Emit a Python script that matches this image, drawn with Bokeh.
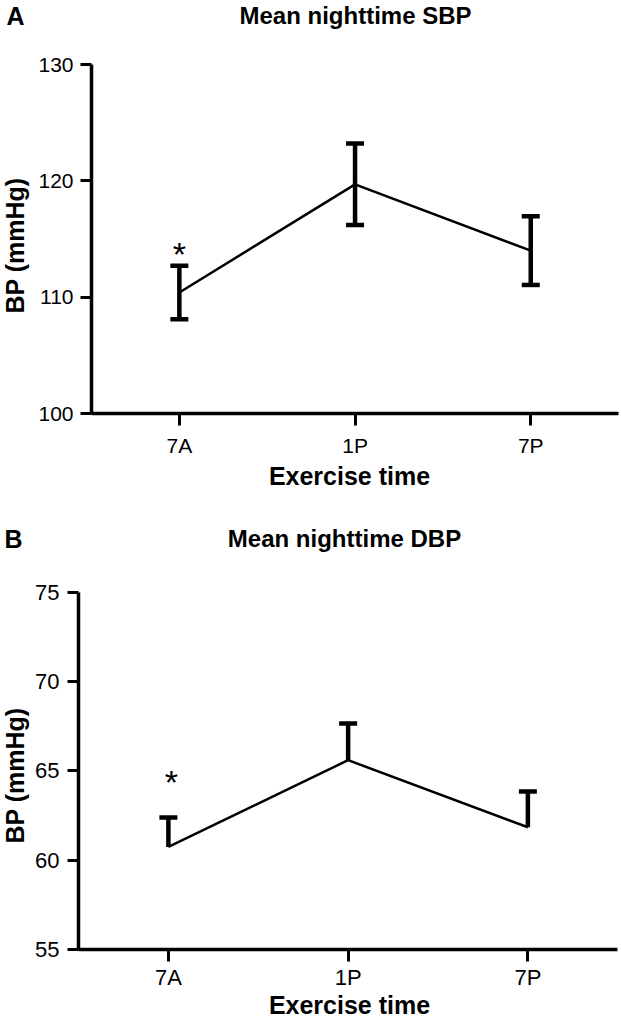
import math
from bokeh.plotting import figure
from bokeh.models import (Range1d, FixedTicker, Whisker, TeeHead, Label,
                          ColumnDataSource)
from bokeh.layouts import column
from bokeh.embed import file_html
from bokeh.resources import INLINE
from bokeh.core.properties import value

# ---------------- data ----------------
times = ["7A", "1P", "7P"]

sbp_mean = [110.4, 119.7, 114.0]
sbp_err = [2.3, 3.5, 2.95]
sbp_ticks = [100, 110, 120, 130]
sbp_star_y = [113.75]          # asterisk above 7A

dbp_mean = [60.75, 65.6, 61.85]
dbp_err = [1.65, 2.05, 2.0]
dbp_ticks = [55, 60, 65, 70, 75]
dbp_star_y = [64.4]            # asterisk above 7A

FONT = "Liberation Sans"
W = 621


def panel(letter, title, mean, err, ticks, star_y, two_sided, g):
    """g: layout geometry in pixels of this figure's canvas."""
    H = g["height"]
    ymin, ymax = ticks[0], ticks[-1]
    pxx = g["cat_step"]                       # pixels per category
    x0 = 0.5 - g["axis_left"] / pxx
    x1 = 0.5 + (W - g["axis_left"]) / pxx
    pxy = (g["axis_bottom"] - g["axis_top"]) / (ymax - ymin)
    y1 = ymax + g["axis_top"] / pxy
    y0 = ymin - (H - g["axis_bottom"]) / pxy

    def to_data(px, py):
        return x0 + px / pxx, y1 - py / pxy

    p = figure(x_range=Range1d(x0, x1), y_range=Range1d(y0, y1),
               width=W, height=H, output_backend="svg",
               toolbar_location=None, tools="", min_border=0)
    p.outline_line_color = None
    p.grid.visible = False
    p.background_fill_color = "white"
    p.border_fill_color = "white"

    xs = [i + 1 for i in range(len(times))]

    for ax in (p.xaxis[0], p.yaxis[0]):
        ax.axis_line_width = 3.5
        ax.axis_line_color = "black"
        ax.major_tick_line_width = 3
        ax.major_tick_line_color = "black"
        ax.major_tick_in = 0
        ax.minor_tick_line_color = None
        ax.major_label_text_font = FONT
        ax.major_label_text_font_size = g["tick_size"]
        ax.major_label_text_color = "black"
    p.yaxis.ticker = FixedTicker(ticks=ticks)
    p.yaxis.bounds = (ymin, ymax)
    p.yaxis.fixed_location = 0.5
    p.yaxis.major_tick_out = 11
    p.yaxis.major_label_standoff = g["ystand"]
    p.xaxis.ticker = FixedTicker(ticks=xs)
    p.xaxis.major_label_overrides = {x: t for x, t in zip(xs, times)}
    p.xaxis.bounds = (0.5, len(times) + 0.5)
    p.xaxis.fixed_location = ymin
    p.xaxis.major_tick_out = 12
    p.xaxis.major_label_standoff = g["xstand"]

    upper = [m + e for m, e in zip(mean, err)]
    lower = [m - e for m, e in zip(mean, err)] if two_sided else list(mean)
    src = ColumnDataSource(dict(x=xs, mean=mean, upper=upper, lower=lower))

    p.line(x="x", y="mean", source=src, line_width=2.5, line_color="black")
    head = dict(size=18, line_width=4.5, line_color="black")
    p.add_layout(Whisker(base="x", upper="upper", lower="lower", source=src,
                         dimension="height", line_width=4.5,
                         line_color="black",
                         upper_head=TeeHead(**head),
                         lower_head=TeeHead(**head) if two_sided else None))

    p.text(x=[xs[0]], y=star_y, text=["*"], text_font=value(FONT),
           text_font_size="34px", text_align="center",
           text_baseline="middle", text_color="black",
           x_offset=g["star_dx"])

    def lbl(text, pos, size, angle=0.0):
        x, y = to_data(*pos)
        p.add_layout(Label(text=text, x=x, y=y, text_font=FONT,
                           text_font_size=size, text_font_style="bold",
                           text_align="center", text_baseline="middle",
                           text_color="black", angle=angle))

    lbl(letter, g["letter"], "25px")
    lbl(title, g["title"], "24px")
    lbl("BP (mmHg)", g["ylab"], "25px", angle=math.pi / 2)
    lbl("Exercise time", g["xlab"], "25px")
    return p


pa = panel("A", "Mean nighttime SBP", sbp_mean, sbp_err, sbp_ticks,
           sbp_star_y, True,
           dict(height=500, axis_left=91, cat_step=175.7, axis_top=64,
                axis_bottom=413, tick_size="21px", ystand=7, xstand=8,
                star_dx=0, letter=(15, 15), title=(355, 15),
                ylab=(14, 245), xlab=(349, 475)))
pb = panel("B", "Mean nighttime DBP", dbp_mean, dbp_err, dbp_ticks,
           dbp_star_y, False,
           dict(height=521, axis_left=78, cat_step=179.75, axis_top=91.5,
                axis_bottom=449.3, tick_size="22px", ystand=8, xstand=3,
                star_dx=3, letter=(13, 38), title=(344, 38),
                ylab=(14, 275), xlab=(349, 504)))

layout = column(pa, pb, spacing=0)
open("out.html", "w").write(file_html(layout, INLINE))
